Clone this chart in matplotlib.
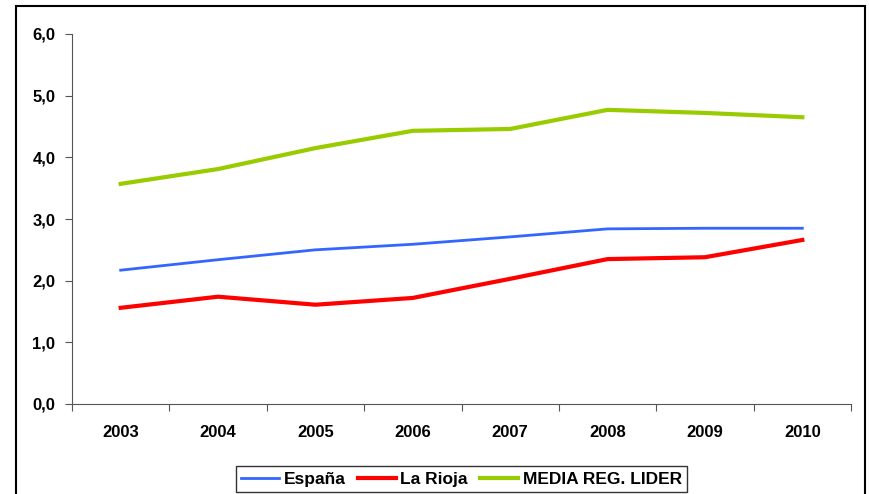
import matplotlib
matplotlib.use("Agg")
import matplotlib.pyplot as plt
from matplotlib.patches import Rectangle
import numpy as np

plt.rcParams["font.family"] = ["Liberation Sans", "DejaVu Sans"]
plt.rcParams["font.weight"] = "bold"

# datos
years = ["2003", "2004", "2005", "2006", "2007", "2008", "2009", "2010"]
espana = [2.17, 2.34, 2.50, 2.59, 2.71, 2.84, 2.85, 2.85]
rioja = [1.56, 1.74, 1.61, 1.72, 2.03, 2.35, 2.38, 2.66]
media = [3.57, 3.81, 4.15, 4.43, 4.46, 4.77, 4.72, 4.65]

W, H = 869, 494
fig = plt.figure(figsize=(W / 100, H / 100), dpi=100)

# marco exterior
fig.patches.append(Rectangle((16 / W, -0.05), (865 - 16) / W, 1.05 - 6 / H,
                             transform=fig.transFigure, fill=False,
                             edgecolor="black", linewidth=1.5))

ax = fig.add_axes([72 / W, 1 - 404 / H, (851 - 72) / W, (404 - 34) / H])
x = np.arange(len(years))

ax.plot(x, espana, color="#3366FF", linewidth=2, label="España")
ax.plot(x, rioja, color="#FF0000", linewidth=3, label="La Rioja")
ax.plot(x, media, color="#99CC00", linewidth=3, label="MEDIA REG. LIDER")

ax.set_xlim(-0.5, len(years) - 0.5)
ax.set_ylim(0, 6)
ax.set_yticks(np.arange(0, 7, 1))
ax.yaxis.set_major_formatter(plt.FuncFormatter(lambda v, p: ("%.1f" % v).replace(".", ",")))

ax.set_xticks(np.arange(-0.5, len(years), 1))
ax.set_xticklabels([])
ax.set_xticks(x, minor=True)
ax.set_xticklabels(years, minor=True)
ax.tick_params(axis="x", which="minor", length=0, pad=15, labelsize=12)
ax.tick_params(axis="x", which="major", direction="out", length=5, color="#555555")
ax.tick_params(axis="y", direction="out", length=5, color="#555555", labelsize=12, pad=7)

for s in ["top", "right"]:
    ax.spines[s].set_visible(False)
for s in ["left", "bottom"]:
    ax.spines[s].set_color("#555555")

leg = ax.legend(loc="upper center", bbox_to_anchor=(0.5, -0.145), ncol=3,
                frameon=True, fancybox=False, edgecolor="black",
                fontsize=12.5, handlelength=2.2, handletextpad=0.25,
                columnspacing=0.7, borderpad=0.3)
leg.get_frame().set_linewidth(1.0)

fig.savefig("out.png", dpi=100)
